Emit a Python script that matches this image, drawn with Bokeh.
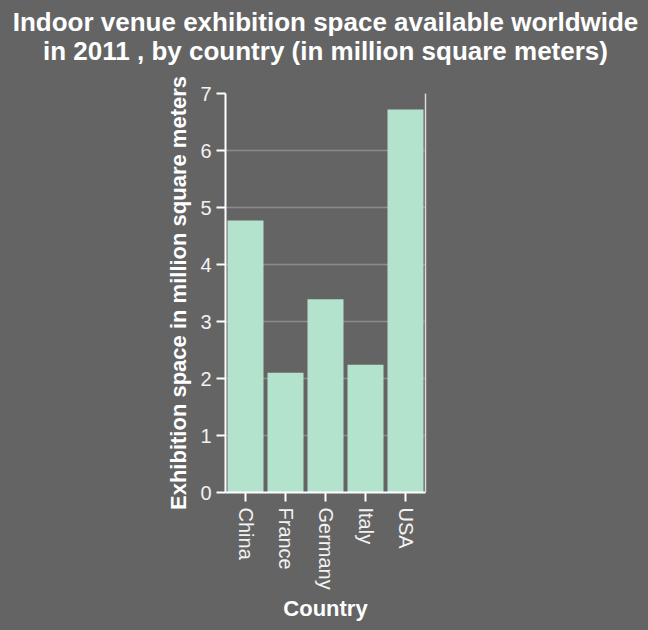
from bokeh.plotting import figure
from bokeh.models import FactorRange, Range1d, LinearAxis, SingleIntervalTicker, ColumnDataSource, Title
from bokeh.embed import file_html
from bokeh.resources import INLINE

countries = ["China", "France", "Germany", "Italy", "USA"]
space = [4.77, 2.10, 3.39, 2.24, 6.72]
y_ticks = [0, 1, 2, 3, 4, 5, 6, 7]
title_lines = ["Indoor venue exhibition space available worldwide",
               "in 2011 , by country (in million square meters)"]

BG = "#646464"
BAR = "#b3e2cd"
FONT = "Liberation Sans"

src = ColumnDataSource(data=dict(country=countries, space=space))

p = figure(
    x_range=FactorRange(*countries, range_padding=0),
    y_range=Range1d(0, 7),
    width=648, height=630,
    output_backend="svg", toolbar_location=None,
    min_border_left=225, min_border_right=223,
    min_border_top=93, min_border_bottom=138,
    background_fill_color=BG, border_fill_color=BG,
    outline_line_color=None,
)

p.vbar(x="country", top="space", width=0.9, source=src,
       fill_color=BAR, line_color=None)

# title: first line is the outermost title, second line sits below it
p.title.text = title_lines[0]
p.title.align = "center"
p.title.text_color = "white"
p.title.text_font = FONT
p.title.text_font_size = "26px"
p.title.text_font_style = "bold"
p.title.standoff = 0
# spacer between the title block and the plot frame (closest to the frame)
p.add_layout(Title(text=" ", text_font_size="10px", standoff=17), "above")
p.add_layout(Title(text=title_lines[1], align="center", text_color="white",
                   text_font=FONT, text_font_size="26px", text_font_style="bold",
                   standoff=-5), "above")

p.xgrid.grid_line_color = None
p.ygrid.grid_line_color = "#8c8c8c"
p.ygrid.grid_line_width = 1.5
p.yaxis.ticker = y_ticks

for ax in (p.xaxis[0], p.yaxis[0]):
    ax.axis_line_color = "white"
    ax.axis_line_width = 2
    ax.major_tick_line_color = "white"
    ax.major_tick_line_width = 2
    ax.major_tick_out = 9
    ax.major_tick_in = 0
    ax.minor_tick_line_color = None
    ax.major_label_text_color = "#f2f2f2"
    ax.major_label_text_font = FONT
    ax.major_label_text_font_size = "20px"
    ax.axis_label_text_color = "white"
    ax.axis_label_text_font = FONT
    ax.axis_label_text_font_size = "22px"
    ax.axis_label_text_font_style = "bold"

p.yaxis.axis_label = "Exhibition space in million square meters"
p.yaxis.major_label_standoff = 5
p.yaxis.axis_label_standoff = 6
p.xaxis.axis_label = "Country"
p.xaxis.major_label_orientation = "vertical"
p.xaxis.major_label_standoff = 6
p.xaxis.axis_label_standoff = 3

right = LinearAxis(ticker=SingleIntervalTicker(interval=1), axis_line_color="#d8d8d8",
                   axis_line_width=1.5, major_tick_line_color=None,
                   minor_tick_line_color=None, major_label_text_font_size="0px",
                   major_label_standoff=0)
p.add_layout(right, "right")

html = file_html(p, INLINE)
html = html.replace("<head>", "<head><style>html,body{background:%s;overflow:hidden;}</style>" % BG, 1)
open("out.html", "w").write(html)
